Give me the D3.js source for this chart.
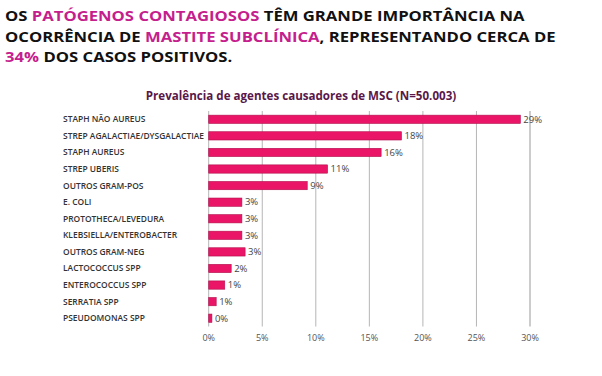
<!DOCTYPE html>
<html>
<head>
<meta charset="utf-8">
<script src="https://cdn.jsdelivr.net/npm/d3@7"></script>
<style>
  body { margin: 0; background: #fff; }
  svg { display: block; }
</style>
</head>
<body>
<div id="chart"></div>
<script>
// data
var agents = ["STAPH NÃO AUREUS", "STREP AGALACTIAE/DYSGALACTIAE", "STAPH AUREUS", "STREP UBERIS",
  "OUTROS GRAM-POS", "E. COLI", "PROTOTHECA/LEVEDURA", "KLEBSIELLA/ENTEROBACTER", "OUTROS GRAM-NEG",
  "LACTOCOCCUS SPP", "ENTEROCOCCUS SPP", "SERRATIA SPP", "PSEUDOMONAS SPP"];
var shares = [29.1, 18, 16.1, 11.1, 9.2, 3.1, 3.1, 3.1, 3.4, 2.1, 1.5, 0.7, 0.3];
var shareLabels = ["29%", "18%", "16%", "11%", "9%", "3%", "3%", "3%", "3%", "2%", "1%", "1%", "0%"];
var ticks = [0, 5, 10, 15, 20, 25, 30];

var headline = [
  [["OS ", 0], ["PATÓGENOS CONTAGIOSOS", 1], [" TÊM GRANDE IMPORTÂNCIA NA", 0]],
  [["OCORRÊNCIA DE ", 0], ["MASTITE SUBCLÍNICA", 1], [", REPRESENTANDO CERCA DE", 0]],
  [["34%", 1], [" DOS CASOS POSITIVOS.", 0]]
];

var W = 602, H = 376;
var svg = d3.select("#chart").append("svg")
  .attr("width", W).attr("height", H);

// headline
var head = svg.append("g");
var lines = head.selectAll("text")
  .data(headline)
  .enter()
  .append("text")
    .attr("x", 0)
    .attr("y", 0)
    .attr("font-family", "Open Sans")
    .attr("font-weight", 700)
    .attr("font-size", 13.5);
lines.selectAll("tspan")
  .data(function (d) { return d; })
  .enter()
  .append("tspan")
    .text(function (d) { return d[0]; })
    .attr("fill", function (d) { return d[1] ? "#c51f8e" : "#111"; });

// the picture's font is wider, so stretch the lines sideways
var w1 = lines.nodes()[0].getComputedTextLength();
var w2 = lines.nodes()[1].getComputedTextLength();
var sx = (515 / w1 + 557 / w2) / 2;
lines.attr("transform", function (d, i) {
  return "translate(5," + (21 + i * 20.5) + ") scale(" + sx + ",1)";
});

// chart title
svg.append("text")
  .attr("x", 301)
  .attr("y", 100)
  .attr("text-anchor", "middle")
  .attr("font-family", "Open Sans")
  .attr("font-weight", 700)
  .attr("font-size", 11.6)
  .attr("fill", "#5a1749")
  .text("Prevalência de agentes causadores de MSC (N=50.003)");

var x = d3.scaleLinear().domain([0, 30]).range([208.7, 530]);
var y = d3.scaleBand().domain(agents).range([111, 326.5]).paddingInner(0.5).paddingOuter(0.25);

// gridlines
svg.append("g")
  .selectAll("line")
  .data(ticks)
  .enter()
  .append("line")
    .attr("x1", function (d) { return x(d); })
    .attr("x2", function (d) { return x(d); })
    .attr("y1", 111)
    .attr("y2", 326.5)
    .attr("stroke", function (d) { return d == 30 ? "#999" : "#b5b5b5"; })
    .attr("stroke-width", 1);

// x tick labels
svg.append("g")
  .selectAll("text")
  .data(ticks)
  .enter()
  .append("text")
    .attr("x", function (d) { return x(d); })
    .attr("y", 341)
    .attr("text-anchor", "middle")
    .attr("font-family", "Open Sans")
    .attr("font-size", 9)
    .attr("fill", "#555")
    .text(function (d) { return d + "%"; });

// bars
svg.append("g")
  .selectAll("rect")
  .data(agents)
  .enter()
  .append("rect")
    .attr("x", x(0))
    .attr("y", function (d) { return y(d); })
    .attr("width", function (d, i) { return x(shares[i]) - x(0); })
    .attr("height", y.bandwidth())
    .attr("fill", "#ea1566")
    .attr("stroke", "#b0104c")
    .attr("stroke-width", 0.6);

// value labels
svg.append("g")
  .selectAll("text")
  .data(agents)
  .enter()
  .append("text")
    .attr("x", function (d, i) { return x(shares[i]) + 3; })
    .attr("y", function (d) { return y(d) + y.bandwidth() / 2; })
    .attr("dy", "0.35em")
    .attr("font-family", "Open Sans")
    .attr("font-size", 9.5)
    .attr("fill", "#444")
    .text(function (d, i) { return shareLabels[i]; });

// category labels, a bit taller and narrower than Open Sans gives
var cats = svg.append("g")
  .selectAll("text")
  .data(agents)
  .enter()
  .append("text")
    .attr("x", 63)
    .attr("y", function (d) { return y(d) + y.bandwidth() / 2; })
    .attr("dy", "0.35em")
    .attr("font-family", "Open Sans")
    .attr("font-weight", 600)
    .attr("font-size", 8.4)
    .attr("fill", "#333")
    .text(function (d) { return d; });
var longest = d3.max(cats.nodes(), function (n) { return n.getComputedTextLength(); });
var cx = 141 / longest;
cats.each(function () {
  var t = d3.select(this);
  t.attr("textLength", this.getComputedTextLength() * cx)
   .attr("lengthAdjust", "spacingAndGlyphs");
});
</script>
</body>
</html>
